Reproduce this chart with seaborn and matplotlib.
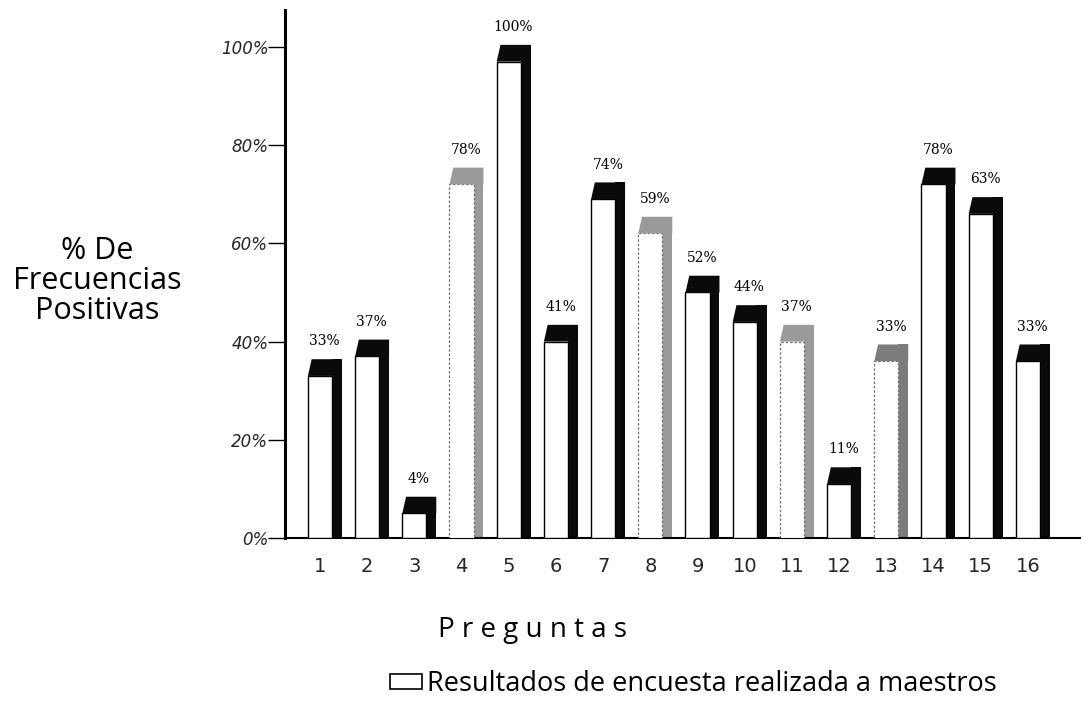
import matplotlib
matplotlib.use("Agg")
import matplotlib.pyplot as plt
from matplotlib.patches import Polygon, Patch
import numpy as np
import pandas as pd
import seaborn as sns

# data
preguntas = [str(i) for i in range(1, 17)]
alturas = [33, 37, 5, 72, 97, 40, 69, 62, 50, 44, 40, 11, 36, 72, 66, 36]
etiquetas = ["33%", "37%", "4%", "78%", "100%", "41%", "74%", "59%",
             "52%", "44%", "37%", "11%", "33%", "78%", "63%", "33%"]
grises = [False, False, False, True, False, False, False, True,
          False, False, True, False, True, False, False, False]
yticks = [0, 20, 40, 60, 80, 100]
ytick_labels = ["0%", "20%", "40%", "60%", "80%", "100%"]

df = pd.DataFrame({"Pregunta": preguntas, "Valor": alturas})

sns.set_theme(style="white")
plt.rcParams["font.family"] = ["DejaVu Sans"]

fig = plt.figure(figsize=(10.82, 7.15), dpi=100)
ax = fig.add_axes([285 / 1082, 1 - 538 / 715, 1 - 285 / 1082 - 0.002, (538 - 10) / 715])

front_w = 0.51
side_w = 0.21
cap = 3.4

# front faces
sns.barplot(data=df, x="Pregunta", y="Valor", color="white", edgecolor="black",
            linewidth=1.0, width=front_w, saturation=1, ax=ax, zorder=3)

for p, g in zip(ax.patches, grises):
    p.set_facecolor("white")
    if g:
        p.set_edgecolor("#6f6f6f")
        p.set_linestyle((0, (2, 1.5)))
        p.set_linewidth(0.9)

pos = np.arange(len(preguntas))
side_col = ["#9a9a9a" if g else "#0a0a0a" for g in grises]
side_col[12] = "#7c7c7c"

# dark side of each bar
ax.bar(pos + front_w / 2 + side_w / 2, np.array(alturas) + cap, width=side_w,
       color=side_col, linewidth=0, zorder=2)

# top cap (slanted)
for i, h in enumerate(alturas):
    x0 = i - front_w / 2
    x1 = i + front_w / 2 + side_w
    poly = Polygon([(x0, h), (x0 + 0.08, h + cap), (x1, h + cap), (x1, h)],
                   closed=True, facecolor=side_col[i], edgecolor="none", zorder=4)
    ax.add_patch(poly)
    ax.text(i + 0.1, h + cap + 2.2, etiquetas[i], ha="center", va="bottom",
            fontsize=10, family="DejaVu Serif", color="black")

ax.set_xlim(-0.74, 16.1)
ax.set_ylim(0, 107.5)
ax.set_yticks(yticks)
ax.set_yticklabels(ytick_labels, fontstyle="italic", fontsize=12)
ax.tick_params(axis="y", direction="out", length=12, width=1, pad=0, left=True, color="black")
ax.tick_params(axis="x", length=0, pad=14, labelsize=14)
ax.set_xlabel("")
ax.set_ylabel("")

for s in ["top", "right"]:
    ax.spines[s].set_visible(False)
ax.spines["left"].set_linewidth(2.2)
ax.spines["left"].set_color("black")
ax.spines["bottom"].set_linewidth(1.5)
ax.spines["bottom"].set_color("black")

fig.text(97 / 1082, 1 - 281 / 715, "% De\nFrecuencias\nPositivas", ha="center", va="center",
         multialignment="center", fontsize=22, family="Open Sans", fontweight="medium",
         linespacing=0.98, color="black")

fig.text(532 / 1082, 1 - 630 / 715, "P r e g u n t a s", ha="center", va="center",
         fontsize=20, family="Open Sans", color="black")

handle = Patch(facecolor="white", edgecolor="black", linewidth=1.2)
fig.legend([handle], ["Resultados de encuesta realizada a maestros"],
           loc="center left", bbox_to_anchor=(366 / 1082, 1 - 684 / 715),
           frameon=False, prop={"family": "Open Sans", "size": 19.5},
           handlelength=1.15, handleheight=0.45, handletextpad=0.2,
           labelcolor="black")

fig.savefig("out.png", dpi=100)
